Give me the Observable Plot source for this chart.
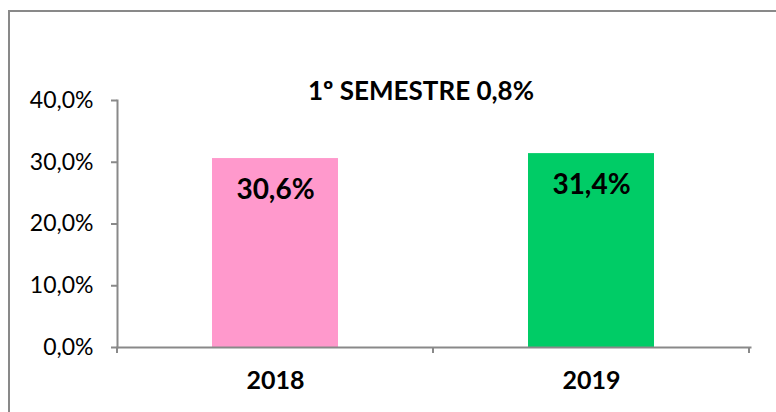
<!DOCTYPE html>
<html>
<head>
<meta charset="utf-8">
<script src="https://cdn.jsdelivr.net/npm/d3@7"></script>
<script src="https://cdn.jsdelivr.net/npm/@observablehq/plot@0.6"></script>
<style>
  html, body { margin: 0; padding: 0; background: #fff; overflow: hidden; }
  #wrap { position: relative; width: 776px; height: 412px; }
  #border { position: absolute; left: 8px; top: 10px; width: 900px; height: 600px; border: 2px solid #898989; box-sizing: border-box; }
  #chart { position: absolute; left: 0; top: 0; }
</style>
</head>
<body>
<div id="wrap"><div id="border"></div><div id="chart"></div></div>
<script>
const years = ["2018", "2019"];
const values = [0.306, 0.314];
const labels = ["30,6%", "31,4%"];
const colors = ["#FF99CC", "#00CC66"];
const yTicks = [0, 0.1, 0.2, 0.3, 0.4];
const title = "1º SEMESTRE 0,8%";

const data = years.map((y, i) => ({year: y, value: values[i], label: labels[i], color: colors[i]}));
const fmt = v => (v * 100).toFixed(1).replace(".", ",") + "%";
const font = "Lato, 'Open Sans', sans-serif";

function boundaryTicks(index, scales, values, dims) {
  const x = scales.x;
  const step = x.step ? x.step() : (dims.width - dims.marginLeft - dims.marginRight) / years.length;
  const bw = x.bandwidth ? x.bandwidth() : step * 0.4;
  const pos = years.map(c => x(c) + bw / 2 - step / 2);
  pos.push(x(years[years.length - 1]) + bw / 2 + step / 2);
  const y0 = dims.height - dims.marginBottom;
  const g = d3.create("svg:g");
  for (const p of pos) {
    g.append("line").attr("x1", p).attr("x2", p).attr("y1", y0).attr("y2", y0 + 6)
      .attr("stroke", "#898989").attr("stroke-width", 2);
  }
  return g.node();
}

const plot = Plot.plot({
  width: 776,
  height: 412,
  marginLeft: 117,
  marginRight: 26,
  marginTop: 100,
  marginBottom: 65,
  style: {fontFamily: font, background: "transparent", overflow: "visible"},
  x: {domain: years, paddingInner: 0.6, paddingOuter: 0.3, label: null},
  y: {domain: [0, 0.4], label: null},
  marks: [
    Plot.barY(data, {x: "year", y: "value", fill: "color"}),
    Plot.frame({anchor: "left", stroke: "#898989", strokeWidth: 2, strokeOpacity: 1}),
    Plot.frame({anchor: "bottom", stroke: "#898989", strokeWidth: 2, strokeOpacity: 1}),
    Plot.axisY({ticks: yTicks, tickFormat: fmt, tickSize: 6, tickPadding: 18, fontSize: 23, fill: "#000", stroke: "#898989", strokeWidth: 2, strokeOpacity: 1, label: null}),
    Plot.axisX({tickSize: 0, tickPadding: 24, fontSize: 25, fontWeight: "bold", fill: "#000", label: null}),
    boundaryTicks,
    Plot.text(data, {x: "year", y: "value", text: "label", dy: 31, fontSize: 28, fontWeight: "bold", fill: "#000"}),
    Plot.text([title], {frameAnchor: "top", lineAnchor: "middle", dx: -13, dy: -9, fontSize: 26, fontWeight: "bold", fill: "#000"})
  ]
});
document.getElementById("chart").appendChild(plot);
</script>
</body>
</html>
